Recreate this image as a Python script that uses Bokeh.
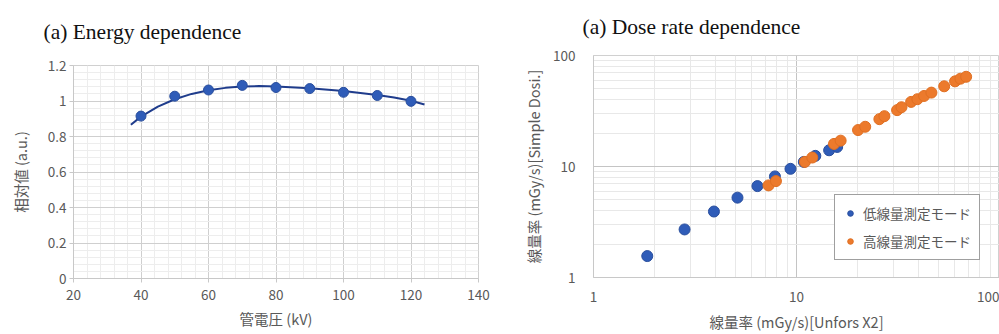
from bokeh.plotting import figure
from bokeh.layouts import row, column
from bokeh.models import FixedTicker, Legend, LegendItem
from bokeh.embed import file_html
from bokeh.resources import INLINE

# ---------------- data: (a) Energy dependence ----------------
kv = [40, 50, 60, 70, 80, 90, 100, 110, 120]
rel = [0.915, 1.027, 1.062, 1.088, 1.076, 1.070, 1.049, 1.031, 0.998]
trend_kv = [37, 40, 45, 50, 55, 60, 65, 70, 75, 80, 90, 100, 110, 115, 120, 124]
trend_rel = [0.866, 0.912, 0.968, 1.010, 1.040, 1.060, 1.074, 1.082, 1.084, 1.082, 1.072, 1.056, 1.034, 1.020, 1.001, 0.980]
x1_ticks = [20, 40, 60, 80, 100, 120, 140]
y1_ticks = [0, 0.2, 0.4, 0.6, 0.8, 1.0, 1.2]
y1_labels = ["0", "0.2", "0.4", "0.6", "0.8", "1", "1.2"]

# ---------------- data: Dose rate dependence ----------------
low_x = [1.84, 2.81, 3.92, 5.12, 6.42, 7.83, 9.34, 10.87, 12.38, 14.48, 15.86]
low_y = [1.56, 2.71, 3.93, 5.24, 6.66, 8.14, 9.53, 11.0, 12.47, 14.0, 15.0]
high_x = [7.28, 7.92, 11.0, 11.96, 15.3, 16.5, 20.1, 21.8, 25.6, 27.1, 31.3, 32.9,
          36.7, 39.4, 42.5, 46.2, 53.4, 60.4, 64.2, 68.5]
high_y = [6.76, 7.39, 11.0, 12.04, 15.97, 17.1, 21.3, 22.8, 26.7, 28.4, 32.2, 34.2,
          38.2, 40.4, 43.2, 46.3, 52.8, 58.5, 61.8, 64.3]
log_ticks = [1, 10, 100]
log_labels = ["1", "10", "100"]
log_minor = [2, 3, 4, 5, 6, 7, 8, 9, 20, 30, 40, 50, 60, 70, 80, 90]

TICK_FONT = "Noto Sans CJK JP"
TICK_COLOR = "#595959"
BLUE = "#2F5CB8"
BLUE_LINE = "#2A4F9E"
ORANGE = "#EC7A2C"


def style_common(p):
    p.background_fill_color = "white"
    p.border_fill_color = "white"
    p.outline_line_color = "#D0D0D0"
    p.outline_line_width = 1
    p.title.text_font = "Liberation Serif"
    p.title.text_font_style = "normal"
    p.title.text_font_size = "21.5px"
    p.title.text_color = "#111111"
    p.title.align = "left"
    p.title.vertical_align = "top"
    for ax in (p.xaxis[0], p.yaxis[0]):
        ax.major_label_text_font = TICK_FONT
        ax.major_label_text_font_size = "13.5px"
        ax.major_label_text_color = TICK_COLOR
        ax.axis_label_text_font = TICK_FONT
        ax.axis_label_text_font_size = "14.5px"
        ax.axis_label_text_font_style = "normal"
        ax.axis_label_text_color = TICK_COLOR
        ax.axis_line_color = "#C8C8C8"
        ax.minor_tick_line_color = None


# ---------------- left figure ----------------
p1 = figure(width=500, height=334, x_range=(20, 140), y_range=(0, 1.2),
            output_backend="svg", toolbar_location=None,
            title="(a) Energy dependence",
            min_border_left=73, min_border_right=22, min_border_top=63, min_border_bottom=56)
style_common(p1)
p1.title.offset = -30
p1.title.standoff = 39
p1.xaxis.ticker = FixedTicker(ticks=x1_ticks, minor_ticks=list(range(20, 141, 4)))
p1.yaxis.ticker = FixedTicker(ticks=y1_ticks, minor_ticks=[round(i * 0.04, 2) for i in range(31)])
p1.yaxis.major_label_overrides = {t: l for t, l in zip(y1_ticks, y1_labels)}
p1.xaxis.axis_label = "管電圧 (kV)"
p1.yaxis.axis_label = "相対値 (a.u.)"
p1.xaxis.axis_label_standoff = 5
p1.yaxis.axis_label_standoff = 14
p1.xaxis.major_label_standoff = 7
p1.yaxis.major_label_standoff = 3
for ax in (p1.xaxis[0], p1.yaxis[0]):
    ax.major_tick_line_color = "#C8C8C8"
    ax.major_tick_out = 4
    ax.major_tick_in = 0
p1.xgrid.grid_line_color = "#CFCFCF"
p1.ygrid.grid_line_color = "#CFCFCF"
p1.xgrid.minor_grid_line_color = "#EDEDED"
p1.ygrid.minor_grid_line_color = "#EDEDED"

p1.line(trend_kv, trend_rel, line_color="#1F3C8C", line_width=2)
p1.scatter(kv, rel, size=10, fill_color=BLUE, line_color=BLUE_LINE, line_width=1)

# ---------------- right figure ----------------
p2 = figure(width=499, height=334, x_axis_type="log", y_axis_type="log",
            x_range=(1, 100), y_range=(1, 100),
            output_backend="svg", toolbar_location=None,
            title="(a) Dose rate dependence",
            min_border_left=93, min_border_right=0, min_border_top=53, min_border_bottom=57)
style_common(p2)
p2.title.offset = -11
p2.title.standoff = 29
p2.xaxis.ticker = FixedTicker(ticks=log_ticks, minor_ticks=log_minor)
p2.yaxis.ticker = FixedTicker(ticks=log_ticks, minor_ticks=log_minor)
p2.xaxis.major_label_overrides = {t: l for t, l in zip(log_ticks, log_labels)}
p2.yaxis.major_label_overrides = {t: l for t, l in zip(log_ticks, log_labels)}
p2.xaxis.axis_label = "線量率 (mGy/s)[Unfors X2]"
p2.yaxis.axis_label = "線量率 (mGy/s)[Simple Dosi.]"
p2.xaxis.axis_label_standoff = 6
p2.yaxis.axis_label_standoff = 6
p2.xaxis.major_label_standoff = 8
p2.yaxis.major_label_standoff = 12
for ax in (p2.xaxis[0], p2.yaxis[0]):
    ax.major_tick_line_color = None
p2.xgrid.grid_line_color = "#C4C4C4"
p2.ygrid.grid_line_color = "#C4C4C4"
p2.xgrid.minor_grid_line_color = "#E8E8E8"
p2.ygrid.minor_grid_line_color = "#E8E8E8"

r_low = p2.scatter(low_x, low_y, size=11, fill_color=BLUE, line_color=BLUE_LINE, line_width=1)
r_high = p2.scatter(high_x, high_y, size=11, fill_color=ORANGE, line_color="#E06F22", line_width=1)

legend = Legend(items=[LegendItem(label="低線量測定モード", renderers=[r_low]),
                       LegendItem(label="高線量測定モード", renderers=[r_high])],
                location=(241, 17))
legend.label_text_font = TICK_FONT
legend.label_text_font_size = "13.5px"
legend.label_text_color = TICK_COLOR
legend.border_line_color = "#404040"
legend.border_line_width = 1.5
legend.background_fill_color = "white"
legend.background_fill_alpha = 1
legend.padding = 8
legend.spacing = 8
legend.glyph_width = 14
legend.label_standoff = 6
legend.margin = 0
p2.add_layout(legend, "center")

layout = row(column(p1), column(p2))
open("out.html", "w").write(file_html(layout, INLINE))
